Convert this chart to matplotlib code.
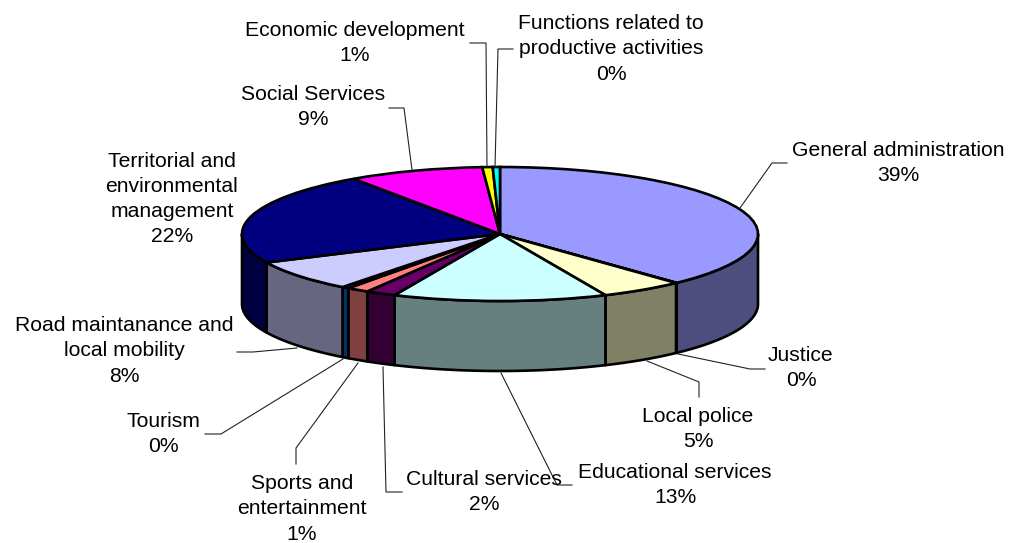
import numpy as np
import matplotlib.pyplot as plt
from matplotlib.colors import to_rgb
from matplotlib.lines import Line2D

plt.rcParams['font.family'] = ['Liberation Sans', 'DejaVu Sans']

# Slices in drawing order, clockwise from 12 o'clock
categories = ['General administration', 'Justice', 'Local police', 'Educational services',
              'Cultural services', 'Sports and\nentertainment', 'Tourism',
              'Road maintanance and\nlocal mobility', 'Territorial and\nenvironmental\nmanagement',
              'Social Services', 'Economic development', 'Functions related to\nproductive activities']
shares = [38.0, 0.05, 5.25, 13.4, 1.9, 1.4, 0.45, 7.55, 22.4, 8.5, 0.65, 0.45]
percent_labels = ['39%', '0%', '5%', '13%', '2%', '1%', '0%', '8%', '22%', '9%', '1%', '0%']
colors = ['#9999FF', '#993366', '#FFFFCC', '#CCFFFF', '#660066', '#FF8080',
          '#0066CC', '#CCCCFF', '#000080', '#FF00FF', '#FFFF00', '#00FFFF']

W, H = 1010, 543
# Ellipse of the pie top and wall height, in pixels
cx, cy, rx, ry, depth = 500, 234, 258, 67, 70
edge_lw = 1.9

# Label centres in pixels
label_pos = [(898, 163), (801, 368), (698, 429), (675, 485), (484, 492), (302, 509),
             (163, 434), (124, 351), (172, 199), (313, 107), (355, 43), (611, 49)]

# Leader lines in pixels
leaders = [
    [(740, 208), (772, 163), (787, 163)],
    [(678, 354), (750, 369), (765, 369)],
    [(647, 361), (699, 382), (699, 397)],
    [(501, 373), (557, 485), (572, 485)],
    [(383, 367), (386, 492), (402, 492)],
    [(358, 363), (296, 448), (296, 464)],
    [(343, 359), (221, 434), (205, 434)],
    [(297, 348), (253, 352), (237, 352)],
    None,
    [(412, 170), (404, 108), (389, 108)],
    [(487, 167), (486, 43), (470, 43)],
    [(495, 167), (498, 49), (513, 49)],
]

fig = plt.figure(figsize=(W / 100, H / 100), dpi=100)
ax = fig.add_axes([0, 0, 1, 1])

# Unit circle in data space, stretched to the ellipse by the axis limits
ax.pie(shares, colors=colors, startangle=90, counterclock=False, radius=1, frame=True,
       wedgeprops={'edgecolor': 'black', 'linewidth': edge_lw, 'zorder': 3})
ax.set_aspect('auto')
ax.set_xlim(-cx / rx, (W - cx) / rx)
ax.set_ylim((cy - H) / ry, cy / ry)
ax.axis('off')

# Front wall: only the part of each slice between 90 and 270 degrees clockwise from the top
edges = np.cumsum([0] + shares) / sum(shares) * 360
drop = depth / ry
for start, end, color in zip(edges[:-1], edges[1:], colors):
    a, b = max(start, 90), min(end, 270)
    if b <= a:
        continue
    t = np.radians(np.linspace(a, b, 80))
    x = np.sin(t)
    y = np.cos(t)
    xs = np.concatenate([x, x[::-1]])
    ys = np.concatenate([y, y[::-1] - drop])
    ax.fill(xs, ys, facecolor=np.array(to_rgb(color)) * 0.5, edgecolor='black',
            linewidth=edge_lw, joinstyle='round', zorder=2)

# Labels and leaders
for name, pct, (px, py) in zip(categories, percent_labels, label_pos):
    fig.text(px / W, 1 - py / H, name + '\n' + pct, ha='center', va='center',
             multialignment='center', fontsize=15.2, linespacing=1.42, color='black')

for pts in leaders:
    if pts is None:
        continue
    xs = [p[0] / W for p in pts]
    ys = [1 - p[1] / H for p in pts]
    fig.add_artist(Line2D(xs, ys, color='#222222', linewidth=0.8, transform=fig.transFigure))

fig.savefig('out.png', dpi=100)
